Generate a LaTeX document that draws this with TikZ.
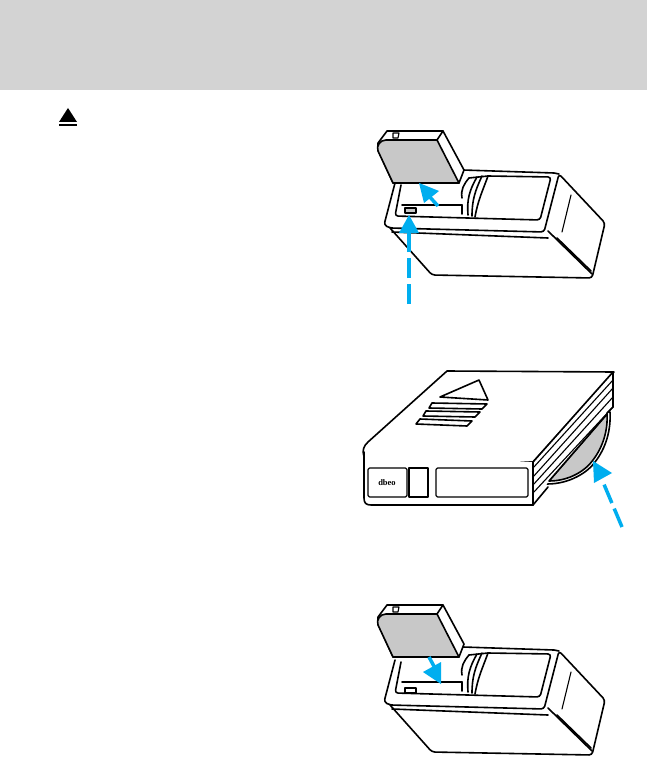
\documentclass[tikz,border=0pt]{standalone}
\usepackage{fontspec}
\setmainfont{Liberation Sans}
\newfontfamily\brandfont{Liberation Serif}
\definecolor{hdr}{HTML}{D3D3D3}
\definecolor{cgray}{HTML}{C8C8C8}
\definecolor{cblue}{HTML}{00AEEF}
\tikzset{
  ink/.style={draw=black,line width=1.6pt,line join=round,line cap=round},
  thin ink/.style={draw=black,line width=1.1pt,line join=round,line cap=round},
  bluedash/.style={draw=cblue,line width=3.5pt,dash pattern=on 20pt off 6pt},
  bluesolid/.style={draw=cblue,line width=3.5pt},
  bluehead/.style={fill=cblue,draw=none},
}
\newcommand{\cartbody}{%
  % outer body
  \draw[ink,fill=white,rounded corners=3pt] (395,183) -- (384,225) -- (390,228)
    -- (544,232) -- (559,174) -- (605,223) -- (592,278) -- (432,275) -- (390,228);
  \draw[ink] (463,170) -- (554,173) -- (559,174);
  \draw[ink] (392,232) -- (548,238);
  \draw[ink] (548,231) -- (592,274);
  \draw[ink] (557,238) -- (591,271);
  \draw[thin ink] (571,195) -- (562,232);
  % window
  \draw[ink,rounded corners=3pt] (401,185) -- (395,216)
    -- (540,220) -- (551,177) -- (488,176);
  \draw[ink] (402,205) -- (462,205);
  \draw[ink] (462,205) -- (462,214);
  % knob
  \draw[ink] (469,178) to[out=-130,in=100] (462,198);
  \draw[ink] (477,177) to[out=-120,in=95] (468,215);
  \draw[ink] (482,176) to[out=-115,in=90] (472,216);
  \draw[ink] (488,176) to[out=-110,in=80] (475,217);
  \draw[ink] (469,178) -- (488,176);
}
\newcommand{\cartridge}{%
  \draw[ink,fill=white] (387,131) -- (443,131) -- (464,170) -- (459,183) -- (393,183) -- (378,150) -- (378,143) -- cycle;
  \draw[thin ink,fill=white] (393,133) -- (399,133) -- (398,138) -- (393,138) -- cycle;
  \draw[ink,fill=cgray] (437,140) -- (386,140) .. controls (380,140) and (376,146) .. (378,151) -- (393,183) -- (459,183) -- cycle;
  \draw[ink] (437,140) -- (443,131);
}
\begin{document}
\begin{tikzpicture}[x=1pt,y=-1pt]
\useasboundingbox (0,0) rectangle (647,759);
\fill[white] (0,0) rectangle (647,759);
\fill[hdr] (0,0) rectangle (647,90);
% eject symbol
\fill[black] (59,122) -- (68,108) -- (77,122) -- cycle;
\fill[black] (59,124) rectangle (77,126);

% top unit
\cartbody
\cartridge
\draw[thin ink,fill=cgray] (405,208) rectangle (416,213);
\draw[bluesolid] (438,206) -- (428,195);
\fill[bluehead] (419,183) -- (439,191) -- (424,203) -- cycle;
\draw[bluedash] (409,304) -- (409,230);
\fill[bluehead] (409,215) -- (399,233) -- (419,233) -- cycle;

% middle unit
\draw[ink,fill=cgray] (549,481) .. controls (570,481) and (586,470) .. (593,460) .. controls (603,447) and (608,430) .. (607,414) -- cycle;
\draw[ink] (547,484) .. controls (570,484) and (588,472) .. (595,462) .. controls (606,448) and (611,430) .. (610,412);
\draw[ink,fill=white] (447,371) -- (614,372) -- (533,462) -- (375,462)
  .. controls (363,462) and (359,450) .. (368,442) -- cycle;
\draw[ink,fill=white] (364,452) -- (364,498) .. controls (364,503) and (366,505) .. (371,505) -- (533,505) -- (533,462);
\fill[white] (533,462) -- (613,372) -- (613,407) -- (607,413) -- (549,481) -- (533,503) -- cycle;
\draw[ink] (533,462) -- (613,372) -- (613,407);
\draw[ink] (533,505) -- (548,487);
\draw[ink] (613,407) -- (607,413);
\draw[ink] (607,414) -- (549,481);
\draw[ink] (533,462) -- (533,505);
\draw[thin ink] (533,468) -- (613,380);
\draw[thin ink] (533,477) -- (613,388);
\draw[thin ink] (533,485) -- (613,397);
\draw[thin ink] (533,493) -- (613,407);
\draw[ink] (440,397) -- (479,380) -- (488,400) -- cycle;
\draw[ink] (432,403) -- (487,404) -- (482,409) -- (429,408) -- cycle;
\draw[ink] (426,411) -- (480,412) -- (475,417) -- (423,416) -- cycle;
\draw[ink] (420,419) -- (472,421) -- (467,426) -- (416,424) -- cycle;
\draw[thin ink,rounded corners=1.5pt] (368,468) rectangle (407,497);
\draw[thin ink] (409,468) rectangle (428,497);
\draw[thin ink,rounded corners=1.5pt] (436,468) rectangle (528,497);
\node[font=\brandfont\bfseries\fontsize{8.5}{8.5}\selectfont,inner sep=0pt] (brand) at (387,483) {dbeo};
\draw[bluedash] (622,527) -- (603,482);
\fill[bluehead] (593,461) -- (612,473) -- (594,483) -- cycle;

% bottom unit
\begin{scope}[yshift=-477pt]
\cartbody
\draw[thin ink,fill=white] (405,211) rectangle (416,216);
\end{scope}
\begin{scope}[yshift=-474pt]
\cartridge
\end{scope}
\draw[bluesolid] (429,657) -- (436,670);
\fill[bluehead] (441,684) -- (423,672) -- (441,662) -- cycle;
\end{tikzpicture}
\end{document}
